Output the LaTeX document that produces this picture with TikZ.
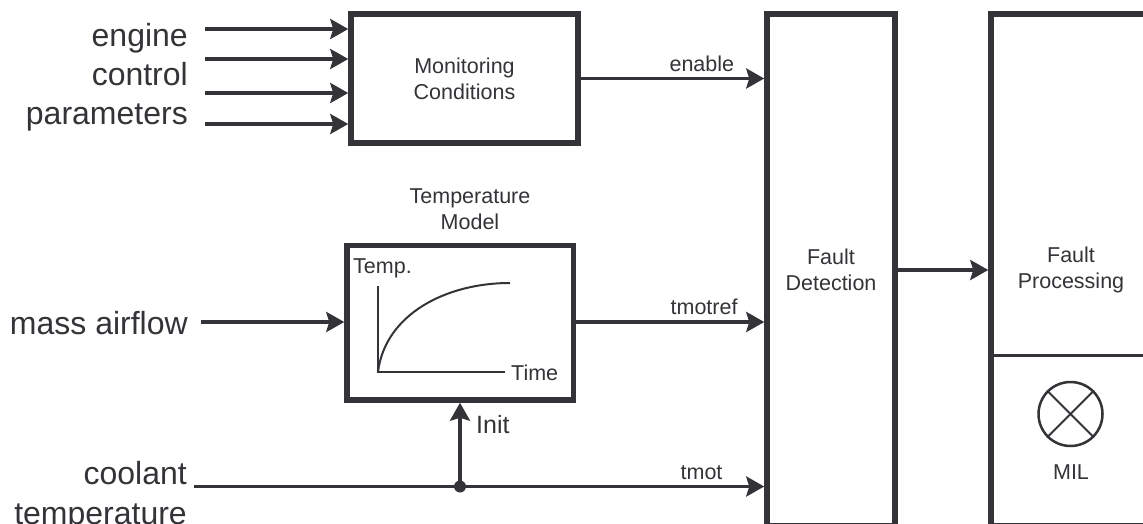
\documentclass[tikz,border=0pt]{standalone}
\usepackage{fontspec}
\setmainfont{Liberation Sans}
\usetikzlibrary{arrows.meta}
\definecolor{inkgrey}{HTML}{333338}
\tikzset{
	blockbox/.style={draw=inkgrey, line width=5.5pt, rectangle, align=center, text=inkgrey, font=\fontsize{21.5}{26}\selectfont},
	biglabel/.style={text=inkgrey, align=right, font=\fontsize{32}{38}\selectfont, inner sep=0pt},
	smalllabel/.style={text=inkgrey, align=center, font=\fontsize{21.5}{26}\selectfont, inner sep=0pt},
	sigline/.style={draw=inkgrey, line width=3.6pt, -{Stealth[length=18pt,width=20pt,inset=3pt]}},
	thinline/.style={draw=inkgrey, line width=2pt},
}
\begin{document}
\begin{tikzpicture}[x=1pt, y=-1pt]
	\useasboundingbox (0,0) rectangle (1143,524);

	\node [blockbox, minimum width=227pt, minimum height=129pt] (monitoring) at (464.5,78.5) {Monitoring\\Conditions};
	\node [blockbox, minimum width=226.5pt, minimum height=154.5pt] (model) at (460.25,322.75) {};
	\node [blockbox, minimum width=128pt, minimum height=512pt] (detection) at (831,270) {Fault\\Detection};
	\node [blockbox, minimum width=160pt, minimum height=512pt] (processing) at (1071,270) {Fault\\Processing};

	\node [biglabel, anchor=east] (engine) at (188,38) {engine};
	\node [biglabel, anchor=east] (control) at (188,74) {control};
	\node [biglabel, anchor=east] (parameters) at (188,117) {parameters};
	\node [biglabel, anchor=east] (airflow) at (188,323) {mass airflow};
	\node [biglabel, anchor=east] (coolant) at (187,473) {coolant};
	\node [biglabel, anchor=east] (temperature) at (187,517) {temperature};

	\coordinate (in1) at (205,29);
	\coordinate (in2) at (205,59);
	\coordinate (in3) at (205,93);
	\coordinate (in4) at (205,124);
	\draw [sigline] (in1) -- (monitoring.west |- in1);
	\draw [sigline] (in2) -- (monitoring.west |- in2);
	\draw [sigline] (in3) -- (monitoring.west |- in3);
	\draw [sigline] (in4) -- (monitoring.west |- in4);

	\coordinate (in5) at (201,322);
	\draw [sigline] (in5) -- (model.west |- in5);

	\draw [sigline] (monitoring.east) -- (detection.west |- monitoring.east)
		node [smalllabel, pos=0.66, above=5pt] (enablelabel) {enable};
	\draw [sigline] (model.east |- in5) -- (detection.west |- in5)
		node [smalllabel, pos=0.68, above=5pt] (tmotreflabel) {tmotref};
	\coordinate (in6) at (194,486.5);
	\draw [sigline] (in6) -- (detection.west |- in6)
		node [smalllabel, pos=0.89, above=5pt] (tmotlabel) {tmot};
	\draw [sigline] (detection.east) -- (processing.west);

	\fill [inkgrey] (460,486.5) circle (6pt) coordinate (junction);
	\draw [sigline] (junction) -- (model.south -| junction);
	\node [smalllabel, anchor=west, font=\fontsize{25}{30}\selectfont] (init) at (476,425) {Init};

	\node [smalllabel] (modeltitle) at (470,209) {Temperature\\Model};

	% small graph inside the model
	\coordinate (origin) at (378,372);
	\draw [thinline] (378,286) -- (origin) -- (505,372);
	\draw [thinline] (origin) .. controls (385,315) and (445,283) .. (510,283);
	\node [smalllabel, anchor=west] (templabel) at (353,268) {Temp.};
	\node [smalllabel, anchor=west] (timelabel) at (511,373) {Time};

	% lamp
	\draw [draw=inkgrey, line width=3pt] (processing.west |- 0,355.5) -- (1143,355.5);
	\node [draw=inkgrey, line width=2.5pt, circle, minimum size=64pt, inner sep=0pt] (lamp) at (1070.5,414) {};
	\draw [thinline] (lamp.north west) -- (lamp.south east);
	\draw [thinline] (lamp.north east) -- (lamp.south west);
	\node [smalllabel] (mil) at (1071,472) {MIL};
\end{tikzpicture}
\end{document}
